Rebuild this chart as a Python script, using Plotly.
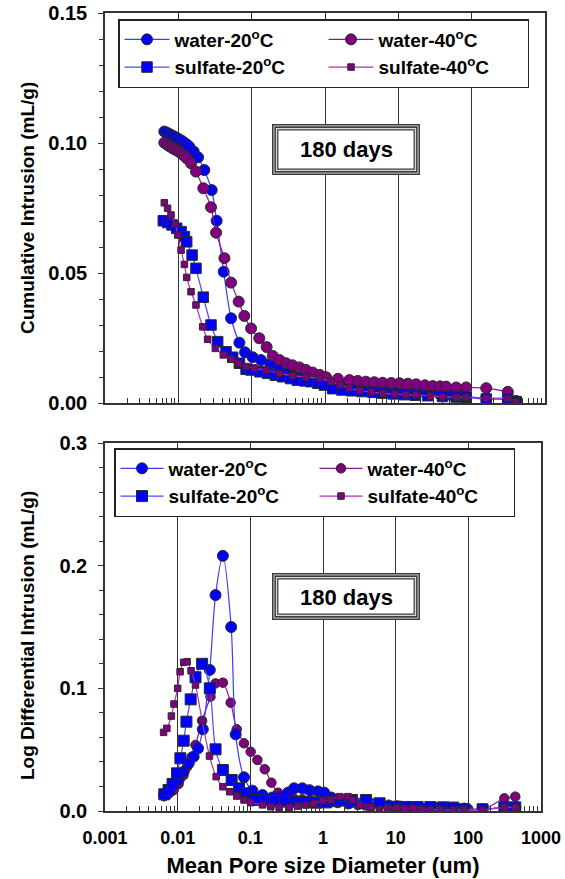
import plotly.graph_objects as go

# ---------------- data ----------------
series_names = ["water-20<sup>o</sup>C", "water-40<sup>o</sup>C",
                "sulfate-20<sup>o</sup>C", "sulfate-40<sup>o</sup>C"]

x_tick_vals = [0.001, 0.01, 0.1, 1, 10, 100, 1000]
x_tick_text = ["0.001", "0.01", "0.1", "1", "10", "100", "1000"]
cum_tick_vals = [0.0, 0.05, 0.10, 0.15]
cum_tick_text = ["0.00", "0.05", "0.10", "0.15"]
ldi_tick_vals = [0.0, 0.1, 0.2, 0.3]
ldi_tick_text = ["0.0", "0.1", "0.2", "0.3"]
label_box = "180 days"
title_top = "Cumulative Intrusion (mL/g)"
title_bottom = "Log Differential Intrusion (mL/g)"
title_x = "Mean Pore size Diameter (um)"

# Cumulative intrusion (top panel)
cum_w20_x = [0.00644, 0.0069, 0.0074, 0.00794, 0.0085, 0.0091, 0.0097, 0.0103, 0.0112, 0.0121,
             0.0131, 0.0141, 0.0162, 0.0186, 0.0226, 0.0285, 0.0333, 0.0415, 0.0524, 0.068,
             0.0813, 0.103, 0.134, 0.18, 0.24, 0.32, 0.42, 0.55, 0.72, 0.95,
             1.25, 1.7, 2.3, 3.1, 4.2, 5.6, 7.5, 10, 14, 19,
             26, 36, 50, 68, 84, 158, 311, 405]
cum_w20_y = [0.1044, 0.1040, 0.1036, 0.1031, 0.1027, 0.1022, 0.1018, 0.1014, 0.1008, 0.1001,
             0.0994, 0.0986, 0.0967, 0.0945, 0.0896, 0.0819, 0.0701, 0.0505, 0.0326, 0.0232,
             0.0195, 0.0176, 0.0165, 0.0150, 0.0135, 0.0120, 0.0105, 0.0095, 0.0087, 0.0080,
             0.0075, 0.0070, 0.0066, 0.0062, 0.0058, 0.0055, 0.0052, 0.0049, 0.0046, 0.0043,
             0.0040, 0.0036, 0.0032, 0.0028, 0.0025, 0.0018, 0.0012, 0.0008]

cum_w40_x = [0.00644, 0.00714, 0.0077, 0.00836, 0.0090, 0.00977, 0.0104, 0.0112, 0.0121, 0.0130,
             0.0149, 0.0174, 0.0219, 0.0279, 0.0327, 0.0425, 0.0524, 0.0665, 0.0794, 0.0982,
             0.127, 0.160, 0.194, 0.240, 0.294, 0.36, 0.448, 0.55, 0.68, 0.85,
             1.035, 1.5, 2.15, 2.8, 3.6, 4.7, 6.1, 8.0, 10.4, 13.5,
             17.5, 23, 29.5, 37, 44.9, 61.5, 84.2, 158, 311]
cum_w40_y = [0.1001, 0.0992, 0.0986, 0.0980, 0.0975, 0.0970, 0.0965, 0.0958, 0.0950, 0.0941,
             0.0922, 0.0890, 0.0826, 0.0753, 0.0655, 0.0557, 0.0463, 0.0390, 0.0335, 0.0287,
             0.0249, 0.0215, 0.0181, 0.0165, 0.0153, 0.0145, 0.0137, 0.0127, 0.0117, 0.0108,
             0.0099, 0.0093, 0.0088, 0.0085, 0.0082, 0.0080, 0.0078, 0.0077, 0.0076, 0.0074,
             0.0072, 0.0068, 0.0065, 0.0064, 0.0063, 0.0060, 0.0060, 0.0057, 0.0043]

cum_s20_x = [0.00624, 0.00714, 0.0082, 0.0095, 0.0109, 0.0121, 0.0130, 0.0154, 0.0174, 0.0219,
             0.0279, 0.0344, 0.0447, 0.0551, 0.068, 0.084, 0.098, 0.13, 0.165, 0.21,
             0.265, 0.34, 0.42, 0.53, 0.645, 0.80, 0.98, 1.27, 1.7, 2.3,
             3.2, 4.5, 6.1, 8.5, 12, 17, 25, 40, 61.5, 84,
             158, 311, 405]
cum_s20_y = [0.0701, 0.0694, 0.0685, 0.0672, 0.0659, 0.0640, 0.0620, 0.0569, 0.0518, 0.0407,
             0.0300, 0.0236, 0.0197, 0.0176, 0.0153, 0.0130, 0.0127, 0.0120, 0.0114, 0.0107,
             0.0101, 0.0094, 0.0088, 0.0085, 0.0082, 0.0076, 0.0069, 0.0055, 0.0050, 0.0047,
             0.0044, 0.0041, 0.0038, 0.0035, 0.0032, 0.0030, 0.0028, 0.0025, 0.0023, 0.0022,
             0.0015, 0.0015, 0.0005]

cum_s40_x = [0.00644, 0.00714, 0.00794, 0.0091, 0.0098, 0.0109, 0.0121, 0.0130, 0.0149, 0.0174,
             0.0215, 0.0251, 0.032, 0.0411, 0.0524, 0.0665, 0.084, 0.11, 0.157, 0.238,
             0.362, 0.552, 0.84, 1.21, 1.6, 2.15, 3.0, 4.3, 6.1, 9.0,
             12.5, 17.5, 27, 40, 61.5, 84, 158, 311, 405]
cum_s40_y = [0.0770, 0.0749, 0.0723, 0.0688, 0.0646, 0.0588, 0.0533, 0.0483, 0.0428, 0.0377,
             0.0293, 0.0245, 0.0210, 0.0185, 0.0168, 0.0153, 0.0140, 0.0133, 0.0127, 0.0114,
             0.0105, 0.0100, 0.0095, 0.0082, 0.0070, 0.0057, 0.0048, 0.0042, 0.0037, 0.0034,
             0.0032, 0.0031, 0.0027, 0.0024, 0.0022, 0.0022, 0.0018, 0.0018, 0.0005]

# Log differential intrusion (bottom panel)
ldi_w20_x = [0.00654, 0.00712, 0.0079, 0.0088, 0.0103, 0.0121, 0.0142, 0.0166, 0.0191, 0.0222,
             0.0277, 0.0332, 0.0419, 0.0545, 0.0628, 0.0818, 0.107, 0.147, 0.20, 0.26,
             0.33, 0.40, 0.52, 0.65, 0.85, 1.04, 1.3, 1.7, 2.3, 3.2,
             4.5, 6.0, 8.0, 10.5, 15, 22, 35, 62, 88, 157,
             313, 443]
ldi_w20_y = [0.0136, 0.0157, 0.0185, 0.0212, 0.0253, 0.0320, 0.0389, 0.0443, 0.0511, 0.0666,
             0.1150, 0.1760, 0.2080, 0.1500, 0.0625, 0.0275, 0.0166, 0.0130, 0.0110, 0.0115,
             0.0150, 0.0185, 0.0185, 0.0170, 0.0160, 0.0150, 0.0110, 0.0080, 0.0065, 0.0060,
             0.0060, 0.0055, 0.0045, 0.0038, 0.0032, 0.0028, 0.0025, 0.0022, 0.0020, 0.0015,
             0.0030, 0.0030]

ldi_w40_x = [0.0065, 0.0075, 0.0088, 0.0103, 0.0120, 0.0135, 0.0155, 0.0176, 0.0217, 0.0283,
             0.0332, 0.0419, 0.0536, 0.0649, 0.0818, 0.101, 0.125, 0.158, 0.195, 0.241,
             0.309, 0.40, 0.52, 0.68, 0.90, 1.2, 1.6, 2.2, 3.0, 4.2,
             6.0, 8.5, 12, 18, 28, 45, 70, 100, 157, 313,
             443]
ldi_w40_y = [0.0120, 0.0140, 0.0170, 0.0220, 0.0290, 0.0360, 0.0440, 0.0538, 0.0736, 0.0932,
             0.1040, 0.1046, 0.0883, 0.0666, 0.0552, 0.0483, 0.0416, 0.0340, 0.0231, 0.0149,
             0.0112, 0.0100, 0.0095, 0.0090, 0.0085, 0.0075, 0.0065, 0.0055, 0.0050, 0.0045,
             0.0040, 0.0035, 0.0030, 0.0027, 0.0024, 0.0020, 0.0018, 0.0016, 0.0010, 0.0103,
             0.0117]

ldi_s20_x = [0.00654, 0.0075, 0.0085, 0.0098, 0.0109, 0.0121, 0.0132, 0.0151, 0.0176, 0.0217,
             0.0277, 0.0332, 0.0419, 0.0553, 0.0698, 0.0863, 0.119, 0.16, 0.22, 0.30,
             0.42, 0.58, 0.80, 1.1, 1.4, 1.69, 2.5, 3.9, 6.0, 10.2,
             14, 20, 30, 45, 62, 88, 157, 313, 443]
ldi_s20_y = [0.0136, 0.0171, 0.0220, 0.0307, 0.0430, 0.0573, 0.0728, 0.0910, 0.1090, 0.1200,
             0.1000, 0.0503, 0.0334, 0.0253, 0.0185, 0.0144, 0.0090, 0.0085, 0.0082, 0.0080,
             0.0075, 0.0072, 0.0068, 0.0070, 0.0080, 0.0090, 0.0090, 0.0090, 0.0063, 0.0035,
             0.0033, 0.0032, 0.0032, 0.0030, 0.0028, 0.0014, 0.0014, 0.0030, 0.0030]

ldi_s40_x = [0.0064, 0.0071, 0.0082, 0.0089, 0.0100, 0.0108, 0.0121, 0.0135, 0.0153, 0.0176,
             0.0217, 0.0274, 0.0339, 0.0419, 0.0519, 0.0649, 0.0818, 0.101, 0.147, 0.191,
             0.249, 0.343, 0.447, 0.583, 0.76, 0.99, 1.29, 1.69, 2.2, 2.58,
             3.19, 3.94, 4.6, 6.0, 7.85, 10.3, 13.4, 17.4, 22.7, 30,
             42, 62, 88, 157, 313, 443]
ldi_s40_y = [0.0641, 0.0674, 0.0774, 0.0872, 0.1000, 0.1135, 0.1212, 0.1217, 0.1143, 0.1027,
             0.0736, 0.0448, 0.0280, 0.0198, 0.0157, 0.0122, 0.0090, 0.0068, 0.0050, 0.0035,
             0.0030, 0.0030, 0.0040, 0.0049, 0.0063, 0.0084, 0.0090, 0.0117, 0.0117, 0.0090,
             0.0049, 0.0035, 0.0030, 0.0014, 0.0022, 0.0030, 0.0022, 0.0022, 0.0014, 0.0012,
             0.0010, 0.0008, 0.0008, 0.0008, 0.0030, 0.0030]

# ---------------- styling ----------------
FONT = "Arial, Liberation Sans, sans-serif"
W, H = 565, 879
ML, MR, MT, MB = 105, 20, 13, 68
PW, PH = W - ML - MR, H - MT - MB

def px_x(px):               # page pixel -> paper coordinate
    return (px - ML) / PW

def px_y(py):
    return (H - MB - py) / PH

BLUE = "#0000FF"
PURPLE = "#800080"
EDGE = "#2a2a2a"
AX = "#333333"

styles = {
    "w20": dict(color=BLUE, symbol="circle", line="#3c3cff"),
    "w40": dict(color=PURPLE, symbol="circle", line="#8a1a8a"),
    "s20": dict(color=BLUE, symbol="square", line="#4a4aff"),
    "s40": dict(color=PURPLE, symbol="square", line="#b030b0"),
}

fig = go.Figure()

def add(key, name, xs, ys, size, xa, ya, legend, rank):
    st = styles[key]
    fig.add_trace(go.Scatter(
        x=xs, y=ys, name=name, mode="lines+markers",
        xaxis=xa, yaxis=ya, legend=legend, legendrank=rank,
        line=dict(color=st["line"], width=1.2, shape="spline", smoothing=0.8),
        marker=dict(symbol=st["symbol"], size=size, color=st["color"],
                    line=dict(color=EDGE, width=1)),
    ))

# top panel (draw order)
add("w20", series_names[0], cum_w20_x, cum_w20_y, 11, "x", "y", "legend", 1)
add("w40", series_names[1], cum_w40_x, cum_w40_y, 11, "x", "y", "legend", 2)
add("s20", series_names[2], cum_s20_x, cum_s20_y, 10.5, "x", "y", "legend", 3)
add("s40", series_names[3], cum_s40_x, cum_s40_y, 6.5, "x", "y", "legend", 4)
# bottom panel (draw order)
add("w40", series_names[1], ldi_w40_x, ldi_w40_y, 9.5, "x2", "y2", "legend2", 2)
add("w20", series_names[0], ldi_w20_x, ldi_w20_y, 11, "x2", "y2", "legend2", 1)
add("s20", series_names[2], ldi_s20_x, ldi_s20_y, 11, "x2", "y2", "legend2", 3)
add("s40", series_names[3], ldi_s40_x, ldi_s40_y, 6.5, "x2", "y2", "legend2", 4)

minor_vals = [m * 10 ** e for e in range(-3, 3) for m in range(2, 10)]

def xaxis(domain, labels, anchor):
    return dict(
        type="log", domain=domain, range=[-3, 3], anchor=anchor, automargin=False,
        tickmode="array", tickvals=x_tick_vals, ticktext=x_tick_text,
        showticklabels=labels, ticks="", ticklabelstandoff=10, ticklabeloverflow="allow",
        showgrid=True, gridcolor=AX, gridwidth=1.3,
        showline=True, linecolor=AX, linewidth=1.5, mirror=True, zeroline=False,
        minor=dict(tickmode="array", tickvals=minor_vals, ticks="inside", ticklen=5,
                   tickcolor=AX, tickwidth=1, showgrid=False),
        tickfont=dict(family=FONT, size=18, color="black", weight="bold"),
    )

def yaxis(domain, rng, vals, text, minor_dt, anchor):
    return dict(
        domain=domain, range=rng, anchor=anchor, automargin=False,
        tickmode="array", tickvals=vals, ticktext=text,
        ticks="outside", ticklen=5, tickcolor=AX, tickwidth=1,
        ticklabelstandoff=7, ticklabeloverflow="allow",
        showgrid=False, zeroline=False,
        showline=True, linecolor=AX, linewidth=1.5, mirror=True,
        minor=dict(dtick=minor_dt, ticks="outside", ticklen=4, tickcolor=AX, showgrid=False),
        tickfont=dict(family=FONT, size=20, color="black", weight="bold"),
    )

top_dom = [px_y(403), 1.0]
bot_dom = [0.0, px_y(443)]

legend_common = dict(xanchor="left", yanchor="top", orientation="h",
                     bgcolor="white", bordercolor="#222", borderwidth=1.5,
                     font=dict(family=FONT, size=19, color="black", weight="bold"),
                     tracegroupgap=0)

fig.update_layout(
    width=W, height=H,
    margin=dict(l=ML, r=MR, t=MT, b=MB, autoexpand=False),
    paper_bgcolor="white", plot_bgcolor="white",
    font=dict(family=FONT, color="black"),
    xaxis=xaxis([0, 1], False, "y"),
    yaxis=yaxis(top_dom, [0, 0.15], cum_tick_vals, cum_tick_text, 0.01, "x"),
    xaxis2=xaxis([0, 436 / PW], True, "y2"),
    yaxis2=yaxis(bot_dom, [0, 0.3], ldi_tick_vals, ldi_tick_text, 0.02, "x2"),
    showlegend=True,
    legend=dict(x=px_x(118), y=px_y(19), entrywidth=144, itemwidth=45, **legend_common),
    legend2=dict(x=px_x(114), y=px_y(448), entrywidth=141, itemwidth=43, **legend_common),
)
fig.update_layout(xaxis2_title=dict(text=title_x, standoff=10,
                                    font=dict(family=FONT, size=22, color="black", weight="bold")))

# rotated y-axis titles
for txt, cy in ((title_top, 208), (title_bottom, 636)):
    fig.add_annotation(xref="paper", yref="paper", x=px_x(27), y=px_y(cy), text=txt,
                       textangle=-90, showarrow=False, xanchor="center", yanchor="middle",
                       font=dict(family=FONT, size=19, color="black", weight="bold"))

# "180 days" framed boxes
def framed_box(x0, y0, x1, y1, cy):
    layers = [(0, "#3a3a3a"), (1.3, "#b0b0b0"), (2.6, "#3a3a3a"), (3.9, "#d8d8d8"),
              (5.2, "#3a3a3a"), (6.4, "white")]
    for inset, col in layers:
        fig.add_shape(type="rect", xref="paper", yref="paper",
                      x0=px_x(x0 + inset), x1=px_x(x1 - inset),
                      y0=px_y(y1 - inset), y1=px_y(y0 + inset),
                      fillcolor=col, line=dict(width=0), layer="above")
    fig.add_annotation(xref="paper", yref="paper", x=px_x((x0 + x1) / 2), y=px_y(cy),
                       text=label_box, showarrow=False, xanchor="center", yanchor="middle",
                       font=dict(family=FONT, size=22, color="black", weight="bold"))

framed_box(272, 124, 420, 175, 150)
framed_box(272, 573, 420, 620, 597)

# the page's default 8px body margin would shift the figure; remove it
fig.write_html("out.html", config={"displayModeBar": False},
               post_script="document.body.style.margin='0px';")
